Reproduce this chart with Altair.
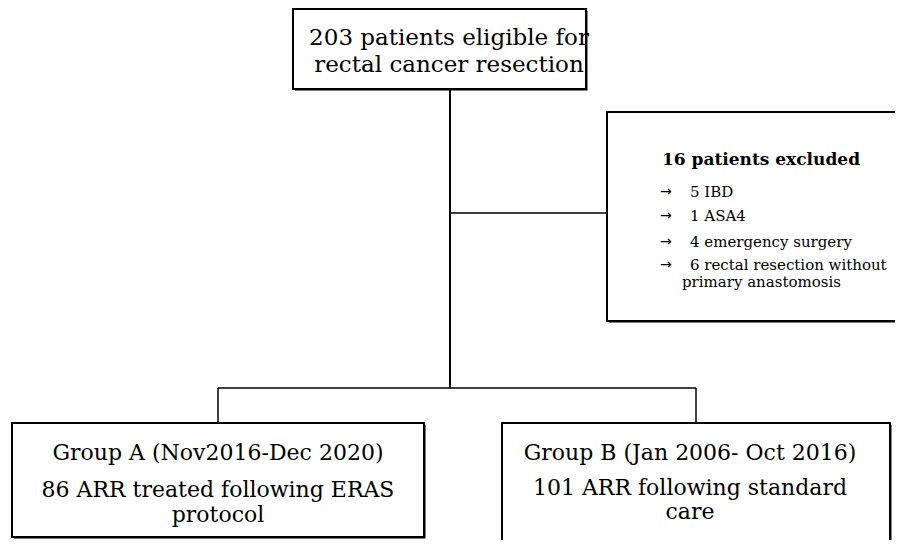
import altair as alt
import pandas as pd

# ---- content ----
top_lines = ["203 patients eligible for", "rectal cancer resection"]
excl_title = "16 patients excluded"
excl_items = ["5 IBD", "1 ASA4", "4 emergency surgery", "6 rectal resection without", "primary anastomosis"]
excl_arrows = ["→", "→", "→", "→"]
groupA_lines = ["Group A (Nov2016-Dec 2020)", "86 ARR treated following ERAS", "protocol"]
groupB_lines = ["Group B (Jan 2006- Oct 2016)", "101 ARR following standard", "care"]

# ---- layout (page pixel coordinates) ----
box_x1 = [293, 607, 12, 502]
box_x2 = [586, 915, 424, 890]
box_y1 = [9, 112, 423, 423]
box_y2 = [89, 321, 537, 560]

conn_x1 = [450, 450, 218, 218, 696]
conn_x2 = [450, 607, 696, 218, 696]
conn_y1 = [89, 213, 388, 388, 388]
conn_y2 = [388, 213, 388, 423, 423]
conn_w = [2, 1.5, 1.5, 1.5, 1.5]

FONT = "DejaVu Serif"

W, H = 887, 532
xs = alt.Scale(domain=[8, 895], range=[0, W], nice=False, zero=False)
ys = alt.Scale(domain=[8, 540], range=[0, H], nice=False, zero=False)

boxes = pd.DataFrame({"x1": box_x1, "x2": box_x2, "y1": box_y1, "y2": box_y2})
shadow = boxes.copy()
shadow["x1"] = shadow["x1"] + 2
shadow["y1"] = shadow["y1"] + 2
shadow["x2"] = shadow["x2"] + 1.5
shadow["y2"] = shadow["y2"] + 1.5

def rect_layer(df, **kw):
    return alt.Chart(df).mark_rect(clip=True, **kw).encode(
        x=alt.X("x1:Q", scale=xs, axis=None),
        x2="x2:Q",
        y=alt.Y("y1:Q", scale=ys, axis=None),
        y2="y2:Q",
    )

shadow_layer = rect_layer(shadow, fill="black")
box_layer = rect_layer(boxes, fill="white", stroke="black", strokeWidth=2)

conns = pd.DataFrame({"x1": conn_x1, "x2": conn_x2, "y1": conn_y1, "y2": conn_y2, "w": conn_w})
conn_layer = alt.Chart(conns).mark_rule(color="black").encode(
    x=alt.X("x1:Q", scale=xs, axis=None),
    x2="x2:Q",
    y=alt.Y("y1:Q", scale=ys, axis=None),
    y2="y2:Q",
    strokeWidth=alt.StrokeWidth("w:Q", scale=None, legend=None),
)

def one_text(t, x, y, size, align="center", bold=False, font=FONT):
    kw = dict(font=font, fontSize=size, align=align, baseline="alphabetic")
    if bold:
        kw["fontWeight"] = "bold"
    df = pd.DataFrame({"t": [t], "x": [x], "y": [y]})
    return alt.Chart(df).mark_text(**kw).encode(
        x=alt.X("x:Q", scale=xs, axis=None),
        y=alt.Y("y:Q", scale=ys, axis=None),
        text="t:N",
    )

texts = []
for t, y in zip(top_lines, [45, 72]):
    texts.append(one_text(t, 449, y, 23))
for t, y in zip(groupA_lines, [460, 497, 522]):
    texts.append(one_text(t, 218, y, 22))
for t, y in zip(groupB_lines, [460, 495, 519]):
    texts.append(one_text(t, 690, y, 22))
texts.append(one_text(excl_title, 662, 165, 17, align="left", bold=True))
for t, x, y in zip(excl_items, [690, 690, 690, 690, 682], [197, 221, 247, 270, 287]):
    texts.append(one_text(t, x, y, 15, align="left"))
for t, y in zip(excl_arrows, [196, 220, 246, 269]):
    texts.append(one_text(t, 660, y, 14, align="left", font="DejaVu Sans"))

chart = alt.layer(
    shadow_layer,
    box_layer,
    conn_layer,
    *texts,
).properties(
    width=W, height=H,
    autosize=alt.AutoSizeParams(type="none"),
    padding=0,
    background="white",
).configure(font=FONT).configure_text(font=FONT).configure_view(stroke=None)

chart.save("out.html", embed_options={"renderer": "svg", "actions": False})
